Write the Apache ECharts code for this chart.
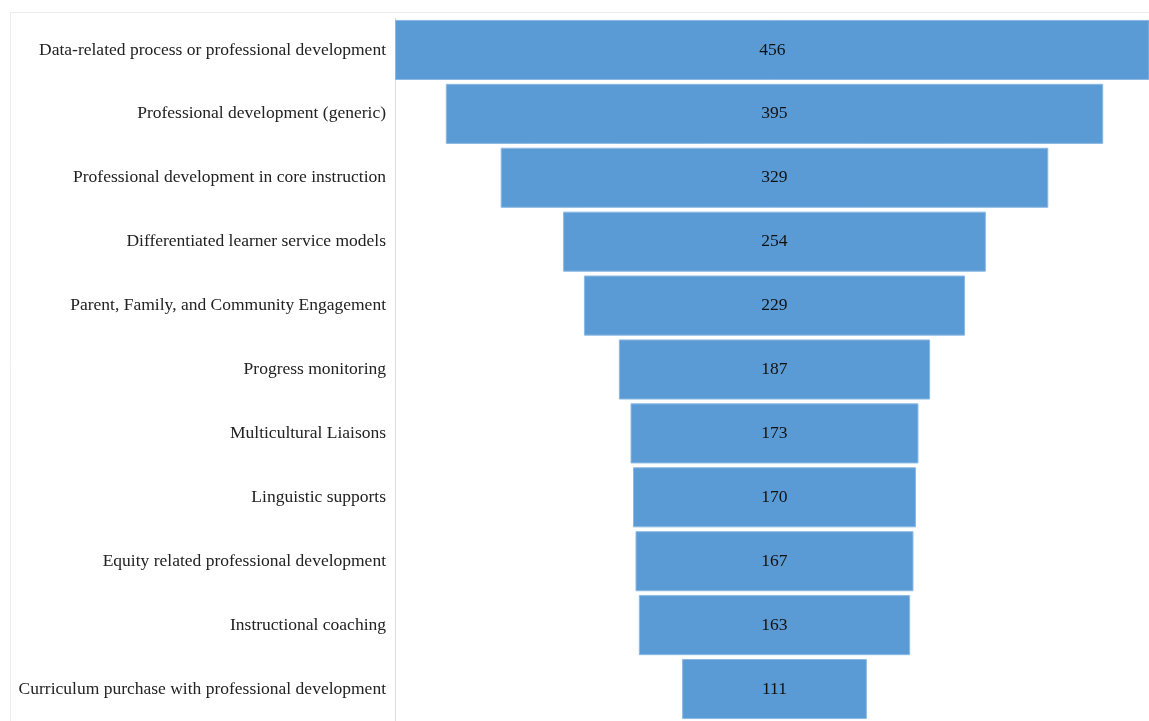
<!DOCTYPE html>
<html>
<head>
<meta charset="utf-8">
<script src="https://cdn.jsdelivr.net/npm/echarts@6/dist/echarts.min.js"></script>
<style>
  html, body { margin: 0; padding: 0; background: #fff; }
  #main { width: 1149px; height: 721px; }
</style>
</head>
<body>
<div id="main"></div>
<script>
var categories = [
    'Data-related process or professional development',
    'Professional development (generic)',
    'Professional development in core instruction',
    'Differentiated learner service models',
    'Parent, Family, and Community Engagement',
    'Progress monitoring',
    'Multicultural Liaisons',
    'Linguistic supports',
    'Equity related professional development',
    'Instructional coaching',
    'Curriculum purchase with professional development'
];
var counts = [456, 395, 329, 254, 229, 187, 173, 170, 167, 163, 111];

var maxCount = Math.max.apply(null, counts);
// invisible spacer so each bar sits centred like a funnel
var spacer = counts.map(function (v) { return (maxCount - v) / 2; });

var myChart = echarts.init(document.getElementById('main'));
var option = {
    animation: false,
    textStyle: { fontFamily: 'Liberation Serif' },
    graphic: [{
        type: 'rect',
        shape: { x: 10.5, y: 12.5, width: 1150, height: 720 },
        style: { fill: 'none', stroke: '#ececec', lineWidth: 1 },
        silent: true,
        z: -10
    }],
    grid: { left: 395, right: 0, top: 18, bottom: -1 },
    xAxis: {
        type: 'value',
        min: 0,
        max: 453, // widest bar runs slightly past the right edge
        show: false
    },
    yAxis: {
        type: 'category',
        inverse: true,
        data: categories,
        axisLine: { show: true, lineStyle: { color: '#dcdcdc' } },
        axisTick: { show: false },
        axisLabel: {
            margin: 9,
            fontSize: 17.5,
            color: '#222',
            fontFamily: 'Liberation Serif'
        }
    },
    series: [
        {
            type: 'bar',
            stack: 'funnel',
            data: spacer,
            itemStyle: { color: 'transparent' },
            silent: true
        },
        {
            type: 'bar',
            stack: 'funnel',
            data: counts,
            barCategoryGap: '6%',
            clip: true,
            itemStyle: { color: '#5b9bd5', borderColor: '#8cb9e3', borderWidth: 1 },
            label: {
                show: true,
                position: 'inside',
                color: '#111',
                fontSize: 17.5,
                fontFamily: 'Liberation Serif'
            }
        }
    ]
};
myChart.setOption(option);
</script>
</body>
</html>
